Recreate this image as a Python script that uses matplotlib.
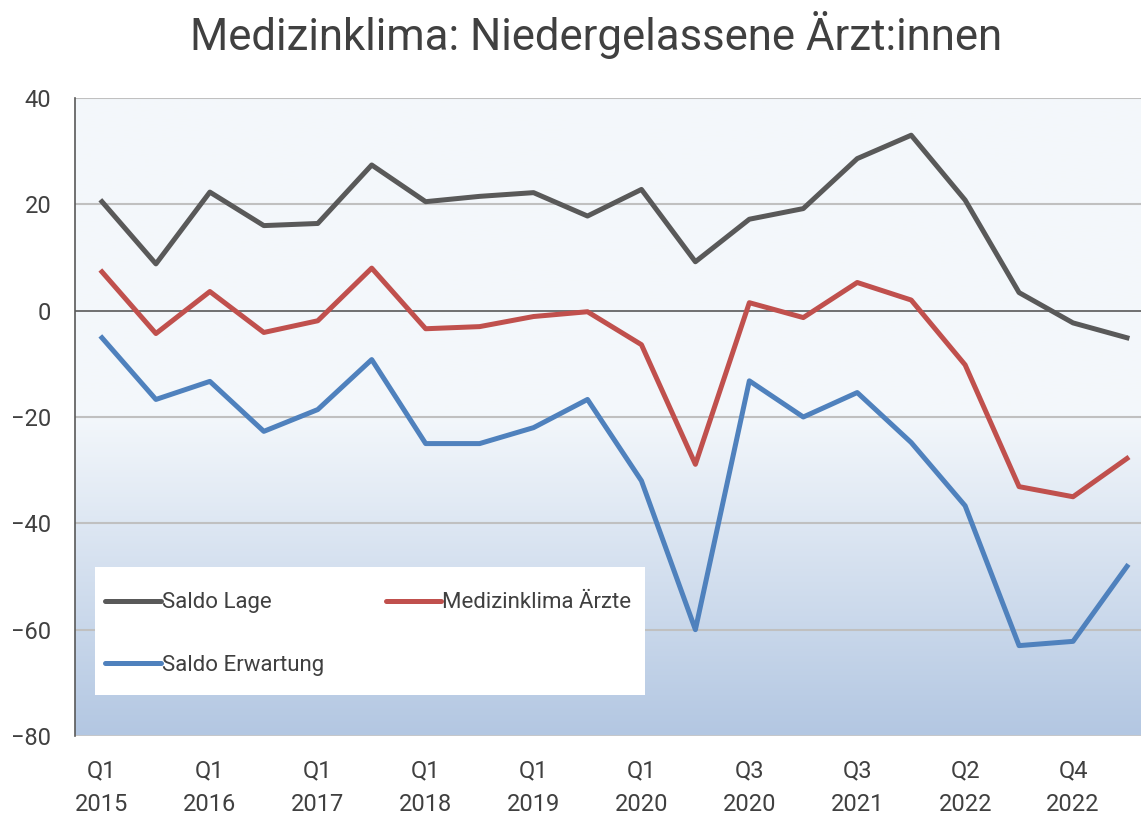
import numpy as np
import matplotlib
matplotlib.use("Agg")
import matplotlib.pyplot as plt
from matplotlib.colors import LinearSegmentedColormap
from matplotlib.patches import Rectangle

plt.rcParams["font.family"] = ["Roboto", "DejaVu Sans"]

# quarterly data, Q1 2015 .. Q4 2022 (every second quarter labelled)
quarters = np.arange(20)
tick_pos = [0, 2, 4, 6, 8, 10, 12, 14, 16, 18]
tick_labels = ["Q1\n2015", "Q1\n2016", "Q1\n2017", "Q1\n2018", "Q1\n2019",
               "Q1\n2020", "Q3\n2020", "Q3\n2021", "Q2\n2022", "Q4\n2022"]

saldo_lage = [20.5, 8.8, 22.3, 16.0, 16.4, 27.4, 20.5, 21.5, 22.2, 17.8,
              22.8, 9.2, 17.2, 19.2, 28.6, 33.0, 20.8, 3.4, -2.3, -5.1]
medizinklima = [7.3, -4.3, 3.6, -4.1, -1.9, 8.0, -3.4, -3.0, -1.1, -0.2,
                -6.4, -28.9, 1.5, -1.3, 5.3, 2.0, -10.2, -33.1, -35.0, -27.8]
saldo_erwartung = [-5.1, -16.7, -13.3, -22.7, -18.6, -9.2, -25.0, -25.0, -22.0, -16.7,
                   -32.0, -60.0, -13.2, -20.0, -15.4, -24.8, -36.7, -63.0, -62.2, -48.1]

C_LAGE = "#595959"
C_MED = "#C0504D"
C_ERW = "#4F81BD"
TXT = "#404040"

fig = plt.figure(figsize=(11.41, 8.16), dpi=100)
ax = fig.add_axes([75 / 1141, 1 - 736 / 816, 1 - 75 / 1141, 638 / 816])

xlim = (-0.5, 19.26)
ylim = (-80, 40)

# background gradient: pale on top, blue at the bottom
cmap = LinearSegmentedColormap.from_list(
    "bg", [(0.0, "#F4F8FB"), (0.5, "#F3F7FB"), (1.0, "#B3C7E2")])
grad = np.linspace(0, 1, 256).reshape(-1, 1)
ax.imshow(grad, cmap=cmap, aspect="auto", extent=(*xlim, ylim[0], ylim[1]),
          origin="upper", zorder=0)

for yv in [-60, -40, -20, 20, 40]:
    ax.axhline(yv, color="#C0C0C0", lw=1.5, zorder=1)
ax.axhline(-80, color="#C8C8C8", lw=2, zorder=1)
ax.axhline(0, color="#595959", lw=1.2, zorder=1)

lw = 3.6
ax.plot(quarters, saldo_lage, color=C_LAGE, lw=lw, label="Saldo Lage", zorder=3)
ax.plot(quarters, saldo_erwartung, color=C_ERW, lw=lw, label="Saldo Erwartung", zorder=3)
ax.plot(quarters, medizinklima, color=C_MED, lw=lw, label="Medizinklima Ärzte", zorder=3)

ax.set_xlim(*xlim)
ax.set_ylim(*ylim)
ax.set_yticks(range(-80, 41, 20))
ax.set_xticks(tick_pos)
ax.set_xticklabels(tick_labels, linespacing=1.6)
ax.tick_params(axis="both", length=0, labelsize=17, colors=TXT)
ax.tick_params(axis="y", pad=17)
ax.tick_params(axis="x", pad=17)
for s in ["top", "right", "bottom"]:
    ax.spines[s].set_visible(False)
ax.spines["left"].set_color("#595959")
ax.spines["left"].set_linewidth(1.2)

# white legend panel, legend itself drawn without frame on top of it
ax.add_patch(Rectangle((0.0188, 0.064), 0.516, 0.201, transform=ax.transAxes,
                       facecolor="white", edgecolor="none", zorder=4))
leg = ax.legend(loc="upper left", bbox_to_anchor=(0.0281, 0.225, 0.494, 0),
                mode="expand", ncol=2, fontsize=16, frameon=False,
                handlelength=2.5, handletextpad=0.05, borderaxespad=0,
                labelspacing=1.85, borderpad=0)
leg.set_zorder(5)
for t in leg.get_texts():
    t.set_color(TXT)
for h in leg.get_lines():
    h.set_solid_capstyle("round")

fig.suptitle("Medizinklima: Niedergelassene Ärzt:innen", fontsize=31.5,
             color=TXT, y=0.986, x=0.522, va="top")

fig.savefig("out.png", dpi=100)
